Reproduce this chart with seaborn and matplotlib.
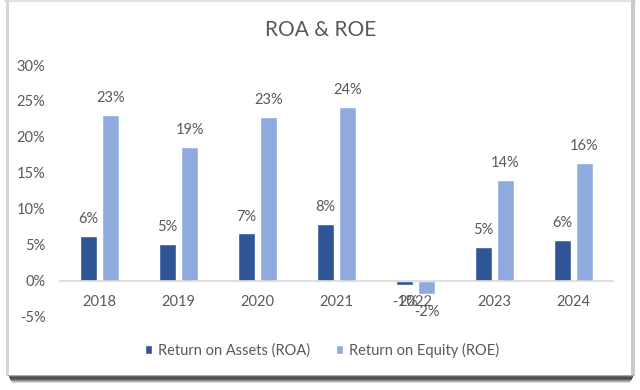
import pandas as pd
import seaborn as sns
import matplotlib.pyplot as plt
from matplotlib.patches import Rectangle

# ---- data (percent) ----
years = ['2018', '2019', '2020', '2021', '2022', '2023', '2024']
roa = [6.2, 5.1, 6.6, 7.9, -0.6, 4.7, 5.7]
roe = [23.1, 18.6, 22.8, 24.2, -1.9, 14.0, 16.4]
series_names = ['Return on Assets (ROA)', 'Return on Equity (ROE)']
y_ticks = [-5, 0, 5, 10, 15, 20, 25, 30]

df = pd.DataFrame({
    'year': years * 2,
    'value': roa + roe,
    'metric': [series_names[0]] * len(years) + [series_names[1]] * len(years),
})

sns.set_style('white')
plt.rcParams['font.family'] = ['Lato', 'DejaVu Sans']
TXT = '#595959'
FS = 10.5

W, H = 640, 390
fig = plt.figure(figsize=(W / 100, H / 100), dpi=100)
fig.patch.set_facecolor('white')
ax = fig.add_axes([60 / W, 1 - 316.7 / H, 553 / W, (316.7 - 65) / H])

sns.barplot(data=df, x='year', y='value', hue='metric', order=years,
            hue_order=series_names, palette=['#2F5597', '#8FAADC'],
            saturation=1, width=0.56, gap=0.22, ax=ax)

ax.set_xlim(-0.5, len(years) - 0.5)
ax.set_ylim(-5, 30)
ax.set_yticks(y_ticks)
ax.set_yticklabels([f'{t}%' for t in y_ticks])
ax.set_xlabel('')
ax.set_ylabel('')

for s in ['top', 'right', 'left']:
    ax.spines[s].set_visible(False)
ax.spines['bottom'].set_position(('data', 0))
ax.spines['bottom'].set_color('#d9d9d9')
ax.spines['bottom'].set_linewidth(1.2)
ax.tick_params(axis='y', length=0, pad=10.5, labelsize=FS, labelcolor=TXT)
ax.tick_params(axis='x', length=0, pad=10, labelsize=FS, labelcolor=TXT)

# data labels, outside end like Excel
for cont, vals in zip(ax.containers, [roa, roe]):
    for bar, v in zip(cont, vals):
        off = 12 if v >= 0 else -12.5
        ax.annotate(f'{v:.0f}%', (bar.get_x() + bar.get_width() / 2, v),
                    xytext=(0, off), textcoords='offset points',
                    ha='center', va='center', fontsize=FS, color=TXT)

# legend at the bottom
handles, labels = ax.get_legend_handles_labels()
ax.get_legend().remove()
fig.legend(handles, labels, loc='center', bbox_to_anchor=(322 / W, 1 - 350 / H),
           ncol=2, frameon=False, fontsize=FS, labelcolor=TXT,
           handlelength=0.5, handleheight=0.5, handletextpad=0.4,
           columnspacing=1.8)

fig.text(320.5 / W, 1 - 29.7 / H, 'ROA & ROE', ha='center', va='center',
         fontsize=15, color=TXT)


# card frame + bottom shadow
def px_rect(x0, y0, x1, y1, color):
    fig.add_artist(Rectangle((x0 / W, 1 - y1 / H), (x1 - x0) / W, (y1 - y0) / H,
                             transform=fig.transFigure, facecolor=color,
                             lw=0, zorder=0))


px_rect(4, 0, 636, 2, '#e2e2e2')
px_rect(6, 0, 9, 376, '#d6d6d6')
px_rect(631, 0, 635, 376, '#c9c9c9')
shadow = ['#a8a8a8', '#6a6a6a', '#4c4c4c', '#4f4f4f', '#656565', '#8a8a8a',
          '#b4b4b4', '#dadada']
for i, c in enumerate(shadow):
    px_rect(8 + i * 0.6, 375 + i, 634 - i * 0.6, 376 + i, c)

fig.savefig('out.png', dpi=100)
